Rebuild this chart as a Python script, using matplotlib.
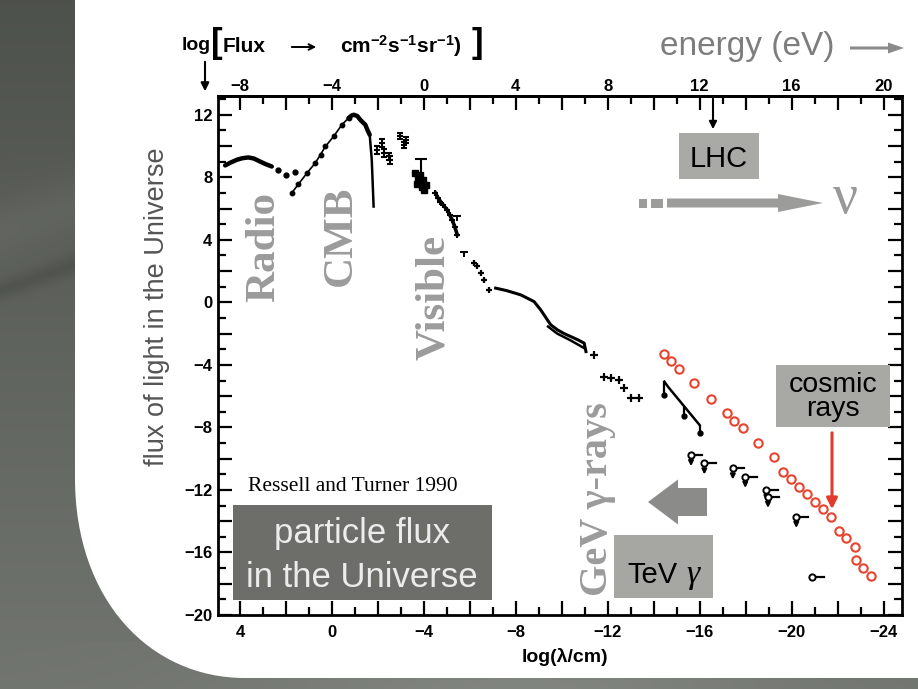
import numpy as np
import matplotlib
matplotlib.use('Agg')
import matplotlib.pyplot as plt
from matplotlib.patches import Rectangle, FancyArrow, PathPatch
from matplotlib.path import Path
from matplotlib.ticker import MultipleLocator, FuncFormatter

plt.rcParams['font.family'] = ['Liberation Sans', 'DejaVu Sans']
plt.rcParams['font.weight'] = 'bold'
plt.rcParams['mathtext.fontset'] = 'custom'
plt.rcParams['mathtext.rm'] = 'Liberation Sans:bold'
plt.rcParams['mathtext.bf'] = 'Liberation Sans:bold'
plt.rcParams['mathtext.default'] = 'rm'

# ---------------- data (log10 lambda/cm , log10 flux) ----------------
radio_x = [4.65, 4.4, 4.14, 3.9, 3.64, 3.4, 3.13, 2.9, 2.62]
radio_y = [8.76, 8.95, 9.12, 9.22, 9.27, 9.2, 9.01, 8.85, 8.69]
radio_dots_x = [2.33, 2.0, 1.6]
radio_dots_y = [8.44, 8.12, 8.31]

cmb_rise_x = [1.75, 1.46, 1.09, 0.73, 0.5, 0.29, -0.07, -0.43, -0.72]
cmb_rise_y = [7.0, 7.56, 8.27, 8.91, 9.45, 9.97, 10.61, 11.36, 11.79]
cmb_peak_x = [-0.72, -0.85, -0.95, -1.1, -1.23, -1.35, -1.45, -1.55, -1.64]
cmb_peak_y = [11.79, 11.95, 12.0, 11.92, 11.68, 11.5, 11.36, 11.0, 10.72]
wien_x = [-1.64, -1.67, -1.73, -1.77, -1.81]
wien_y = [10.72, 10.19, 9.12, 7.63, 6.13]

ir1_x = [-1.96, -2.18, -2.25, -2.47, -2.54]
ir1_y = [9.76, 10.19, 9.55, 9.33, 9.12]
ir2_x = [-2.98, -3.12, -3.2]
ir2_y = [10.66, 10.08, 10.4]

opt_x = [-3.63, -3.7, -3.73, -3.82, -3.85, -3.92, -3.95, -4.0, -4.07]
opt_y = [8.27, 7.6, 7.95, 8.16, 7.73, 7.41, 7.85, 7.2, 7.52]
opt_err_x = [-3.88]
opt_err_lo = [8.2]
opt_err_hi = [9.16]

uv_x = [-4.5, -4.6, -4.72, -4.85, -5.01, -5.12, -5.23, -5.35, -5.45]
uv_y = [6.99, 6.7, 6.45, 6.2, 5.92, 5.6, 5.28, 4.8, 4.32]
uv_cap_x = [-5.42, -5.74]
uv_cap_y = [5.54, 3.25]

xr_pts_x = [-6.17, -6.32, -6.47, -6.61, -6.83]
xr_pts_y = [2.5, 2.33, 1.87, 1.44, 0.8]

xr_line_x = [-7.12, -7.6, -8.21, -8.79, -9.08, -9.37, -9.52, -9.81, -10.1, -10.39, -10.7, -10.97, -11.05]
xr_line_y = [0.91, 0.75, 0.48, 0.05, -0.48, -1.12, -1.44, -1.76, -2.0, -2.19, -2.4, -2.61, -3.15]
xr_line2_x = [-9.4, -9.8, -10.4, -11.0]
xr_line2_y = [-1.55, -2.0, -2.45, -2.95]

gam_pts_x = [-11.41, -11.84, -12.14, -12.5, -12.72, -13.0, -13.37]
gam_pts_y = [-3.36, -4.75, -4.85, -4.96, -5.49, -6.13, -6.13]

egret_x = [-14.46, -14.62, -15.99]
egret_y = [-5.07, -5.4, -7.84]
egret_lim_x = [-14.46, -15.33, -15.99]
egret_lim_top = [-5.07, -6.67, -7.84]
egret_lim_bot = [-5.92, -7.3, -8.37]

tev_x = [-15.62, -16.2, -17.44, -17.98, -18.9, -18.97, -20.2, -20.89]
tev_y = [-9.76, -10.29, -10.61, -11.15, -12.0, -12.43, -13.71, -17.59]

cr_x = [-14.43, -14.75, -15.09, -15.77, -16.47, -17.2, -17.51, -17.88, -18.53, -19.23,
        -19.62, -19.95, -20.3, -20.65, -21.0, -21.37, -21.7, -22.07, -22.38, -22.75,
        -22.78, -23.11, -23.47]
cr_y = [-3.3, -3.72, -4.24, -5.17, -6.16, -7.05, -7.56, -8.05, -8.97, -9.87,
        -10.83, -11.32, -11.79, -12.26, -12.75, -13.24, -13.71, -14.6, -15.09, -15.63,
        -16.48, -16.97, -17.5]

x_ticks_label_step = 4
energy_offset = -4  # log E(eV) = -log(lambda/cm) - 4

# ---------------- figure ----------------
W, H = 918, 689
fig = plt.figure(figsize=(W / 100, H / 100), dpi=100)

# background slide
bg = fig.add_axes([0, 0, 1, 1], zorder=0)
bg.set_xlim(0, W); bg.set_ylim(H, 0); bg.axis('off')
yy, xx = np.mgrid[0:H, 0:W]
g = 0.31 + 0.14 * yy / H
g += 0.06 * np.exp(-((xx - 520) / 260.0) ** 2) * (yy > 640)
g -= 0.045 * np.exp(-((yy - 290 + 0.35 * xx) / 10.0) ** 2)
g += 0.03 * np.exp(-((yy - 230 + 0.35 * xx) / 30.0) ** 2)
img = np.dstack([g - 0.005, g + 0.01, g - 0.01]).clip(0, 1)
bg.imshow(img, extent=(0, W, H, 0), aspect='auto', zorder=0)
verts = [(75, 0), (W, 0), (W, 678), (245, 678), (150, 678), (75, 600), (75, 478), (75, 0)]
codes = [Path.MOVETO, Path.LINETO, Path.LINETO, Path.LINETO, Path.CURVE4, Path.CURVE4,
         Path.CURVE4, Path.CLOSEPOLY]
bg.add_patch(PathPatch(Path(verts, codes), facecolor='white', edgecolor='none', zorder=1))

# main axes
ax = fig.add_axes([218 / W, 1 - 615 / H, (902 - 218) / W, (615 - 96) / H], zorder=1)
ax.patch.set_alpha(0)
ax.set_xlim(4.96, -24.8)
ax.set_ylim(-20, 13.2)

k = 'black'
ax.plot(radio_x, radio_y, '-', color=k, lw=3.2, solid_capstyle='round')
ax.plot(radio_dots_x, radio_dots_y, 'o', color=k, ms=3.5)
ax.plot(cmb_rise_x, cmb_rise_y, '-', color=k, lw=1.2)
ax.plot(cmb_rise_x, cmb_rise_y, 'o', color=k, ms=3.2)
ax.plot(cmb_peak_x, cmb_peak_y, '-', color=k, lw=3.2, solid_capstyle='round')
ax.plot(wien_x, wien_y, '-', color=k, lw=1.8)
ax.errorbar(ir1_x, ir1_y, yerr=0.25, fmt='+', color=k, ms=5, mew=1.5, capsize=2, elinewidth=1.4)
ax.errorbar(ir2_x, ir2_y, yerr=0.2, fmt='+', color=k, ms=5, mew=1.5, capsize=2, elinewidth=1.4)
ax.plot(opt_x, opt_y, 's', color=k, ms=5)
ax.vlines(opt_err_x, opt_err_lo, opt_err_hi, color=k, lw=1.5)
ax.plot(opt_err_x, opt_err_hi, '_', color=k, ms=8, mew=1.5)
ax.plot(uv_x, uv_y, '-', color=k, lw=2.6)
ax.plot(uv_x, uv_y, '+', color=k, ms=5, mew=1.5)
ax.plot(uv_cap_x, uv_cap_y, '_', color=k, ms=6, mew=1.5)
ax.vlines(uv_cap_x, [y - 0.35 for y in uv_cap_y], uv_cap_y, color=k, lw=1.4)
ax.plot(xr_pts_x, xr_pts_y, '+', color=k, ms=5, mew=1.6)
ax.plot(xr_line_x, xr_line_y, '-', color=k, lw=2.2)
ax.plot(xr_line2_x, xr_line2_y, '-', color=k, lw=1.8)
ax.plot(gam_pts_x, gam_pts_y, '+', color=k, ms=6, mew=1.6)
ax.plot(egret_x, egret_y, '-', color=k, lw=1.8)
ax.vlines(egret_lim_x, egret_lim_bot, egret_lim_top, color=k, lw=1.6)
ax.plot(egret_lim_x, egret_lim_bot, 'o', color=k, ms=3.5)

# TeV upper limits (lollipops)
ax.plot(tev_x, tev_y, 'o', mfc='white', mec=k, ms=4.5, mew=1.4, zorder=4)
for xv, yv in zip(tev_x, tev_y):
    ax.plot([xv, xv - 0.5], [yv, yv], '-', color=k, lw=1.6, zorder=3)
for xv, yv in zip(tev_x[:-1], tev_y[:-1]):
    ax.annotate('', xy=(xv, yv - 0.9), xytext=(xv, yv - 0.15),
                arrowprops=dict(arrowstyle='-|>', color=k, lw=1.5, mutation_scale=7))

# cosmic rays
ax.plot(cr_x, cr_y, 'o', mfc='none', mec='#e8432f', ms=6, mew=1.5, zorder=5)

# ticks
def lab(v, p):
    r = int(round(v))
    if r % x_ticks_label_step == 0:
        return ('\u2212%d' % abs(r)) if r < 0 else '%d' % r
    return ''

for axis in (ax.xaxis, ax.yaxis):
    axis.set_major_locator(MultipleLocator(2))
    axis.set_minor_locator(MultipleLocator(1))
    axis.set_major_formatter(FuncFormatter(lab))
ax.tick_params(which='both', direction='in', right=True, top=False, width=1.6,
               labelsize=12, colors='black')
ax.tick_params(which='major', length=10)
ax.tick_params(which='minor', length=5.5)
ax.tick_params(axis='x', pad=7)
ax.tick_params(axis='y', pad=4)
for s in ax.spines.values():
    s.set_linewidth(2)

sec = ax.secondary_xaxis('top', functions=(lambda x: -x + energy_offset,
                                           lambda e: -e + energy_offset))
sec.xaxis.set_major_locator(MultipleLocator(2))
sec.xaxis.set_minor_locator(MultipleLocator(1))
sec.xaxis.set_major_formatter(FuncFormatter(lab))
sec.tick_params(which='both', direction='in', width=1.6, labelsize=12, pad=1.5)
sec.tick_params(which='major', length=10)
sec.tick_params(which='minor', length=5.5)
sec.spines['top'].set_linewidth(2)

ax.set_xlabel('log(\u03bb/cm)', fontsize=14, fontweight='bold')
ax.xaxis.set_label_coords((565 - 218) / 684, (615 - 648) / 519)
ax.set_ylabel('flux of light in the Universe', fontsize=19.5, fontweight='normal',
              color='#555555')
ax.yaxis.set_label_coords((170 - 218) / 684, (615 - 307) / 519)

# ---------------- overlay annotations (pixel coordinates) ----------------
ov = fig.add_axes([0, 0, 1, 1], zorder=3)
ov.set_xlim(0, W); ov.set_ylim(H, 0); ov.axis('off'); ov.patch.set_alpha(0)

ov.text(182, 46, 'log', fontsize=14, fontweight='bold', va='center', ha='left')
ov.text(211, 44, '[', fontsize=25, fontweight='bold', va='center', ha='left')
ov.text(223, 46, 'Flux', fontsize=15, fontweight='bold', va='center', ha='left')
ov.annotate('', xy=(319, 47), xytext=(289, 47),
            arrowprops=dict(arrowstyle='->', color='black', lw=1.4, mutation_scale=10))
ov.text(340, 46, 'cm$^{-2}$s$^{-1}$sr$^{-1}$)', fontsize=15,
        fontweight='bold', va='center', ha='left')
ov.text(472, 44, ']', fontsize=25, fontweight='bold', va='center', ha='left')
ov.annotate('', xy=(205, 94), xytext=(205, 59),
            arrowprops=dict(arrowstyle='-|>', color='black', lw=1.5, mutation_scale=12))

ov.text(660, 46, 'energy (eV)', fontsize=24, fontweight='normal', color='#7d7d7d',
        va='center', ha='left')
ov.add_patch(FancyArrow(850, 48, 54, 0, width=3, head_width=11, head_length=16,
                        length_includes_head=True, color='#8a8a8a', lw=0))

# LHC
ov.annotate('', xy=(713, 132), xytext=(713, 96),
            arrowprops=dict(arrowstyle='-|>', color='black', lw=1.5, mutation_scale=11))
ov.add_patch(Rectangle((679, 133), 80, 46, color='#a9a9a5', lw=0))
ov.text(719, 167, 'LHC', fontsize=21, fontweight='normal', ha='center', va='baseline')

# neutrino arrow
nu_c = '#9c9c9a'
ov.add_patch(Rectangle((639, 198.5), 8, 9, color=nu_c, lw=0))
ov.add_patch(Rectangle((651, 198.5), 12, 9, color=nu_c, lw=0))
ov.add_patch(FancyArrow(667, 203, 156, 0, width=9, head_width=18, head_length=45,
                        length_includes_head=True, color=nu_c, lw=0))
ov.text(845, 199, '\u03bd', fontsize=40, family=['Liberation Serif', 'DejaVu Serif'],
        fontweight='normal', color='#999999', ha='center', va='center')

# rotated band labels
lab_c = '#9b9b9b'
serif = ['Liberation Serif', 'DejaVu Serif']
ov.text(264, 247, 'Radio', rotation=90, fontsize=31, family=serif, fontweight='bold',
        color=lab_c, ha='center', va='center')
ov.text(341, 236, 'CMB', rotation=90, fontsize=31, family=serif, fontweight='bold',
        color=lab_c, ha='center', va='center')
ov.text(434, 297, 'Visible', rotation=90, fontsize=31, family=serif, fontweight='bold',
        color=lab_c, ha='center', va='center')
ov.text(597, 499, 'GeV \u03b3-rays', rotation=90, fontsize=29, family=serif,
        fontweight='bold', color=lab_c, ha='center', va='center')

ov.text(248, 491, 'Ressell and Turner 1990', fontsize=15.5, family=serif,
        fontweight='normal', ha='left', va='baseline')

# particle flux box
ov.add_patch(Rectangle((233, 505), 259, 95, color='#6d6e6a', lw=0))
ov.text(362, 543, 'particle flux', fontsize=25, fontweight='normal', color='#ececec',
        ha='center', va='baseline')
ov.text(362, 587, 'in the Universe', fontsize=25, fontweight='normal', color='#ececec',
        ha='center', va='baseline')

# big left arrow
ov.add_patch(FancyArrow(707, 502, -59, 0, width=28, head_width=45, head_length=30,
                        length_includes_head=True, color='#8b8b89', lw=0))

# TeV gamma box
ov.add_patch(Rectangle((614, 535), 99, 63, color='#a6a7a3', lw=0))
ov.text(627, 583, 'TeV', fontsize=21, fontweight='normal', ha='left', va='baseline')
ov.text(693, 583, '\u03b3', fontsize=24, family=serif, style='italic', fontweight='normal',
        ha='center', va='baseline')

# cosmic rays box + arrow
ov.add_patch(Rectangle((776, 365), 114, 62, color='#a8a8a4', lw=0))
ov.text(833, 397, 'cosmic\nrays', fontsize=20.5, fontweight='normal', ha='center',
        va='center', linespacing=0.95)
ov.annotate('', xy=(832, 512), xytext=(832, 430),
            arrowprops=dict(arrowstyle='-|>', color='#e23b2e', lw=2.2, mutation_scale=16))

fig.savefig('out.png', dpi=100)
